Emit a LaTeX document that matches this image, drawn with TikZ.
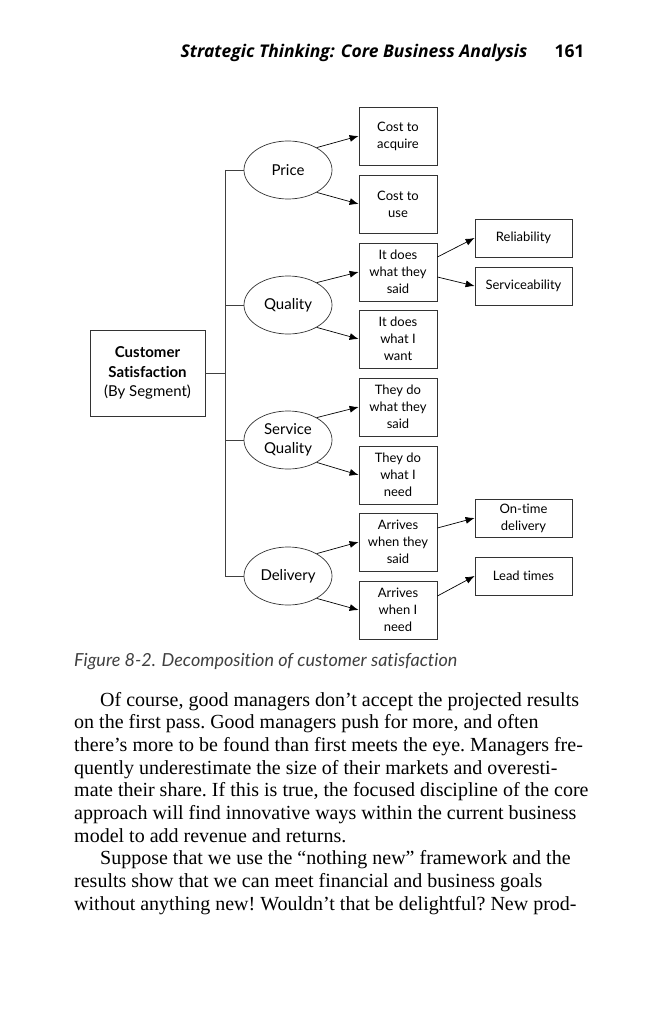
\documentclass[tikz,border=0pt]{standalone}
\usepackage{fontspec}
\setmainfont{Liberation Serif}
\newfontfamily\dfont[Ligatures=NoCommon]{Lato}
\newfontfamily\hfont{Open Sans}
\usetikzlibrary{arrows.meta,shapes.geometric}
\begin{document}
\begin{tikzpicture}[x=1pt,y=-1pt,
  every node/.style={font=\dfont\fontsize{13}{17}\selectfont, text=black},
  midbox/.style={draw=black!80, line width=0.8pt, minimum width=78pt, minimum height=58pt, inner sep=1pt, align=center},
  rbox/.style={draw=black!80, line width=0.8pt, minimum width=97pt, minimum height=38pt, inner sep=1pt, align=center},
  oval/.style={draw=black!80, line width=0.7pt, ellipse, minimum width=88pt, minimum height=58pt, inner sep=0pt, align=center, font=\dfont\fontsize{15}{19}\selectfont},
  link/.style={draw=black!75, line width=0.9pt},
  arr/.style={draw=black, line width=0.7pt, -{Latex[length=9pt,width=7pt]}},
  bodyline/.style={anchor=base west, inner sep=0pt, font=\rmfamily\fontsize{20}{23}\selectfont\frenchspacing}
]
\fill[white] (0,0) rectangle (662,1024);
\useasboundingbox (0,0) rectangle (662,1024);

% header
\node[anchor=base east, font=\hfont\bfseries\itshape\fontsize{17.5}{21}\selectfont] (head) at (531,58) {Strategic Thinking: Core Business Analysis};
\node[anchor=base east, font=\hfont\bfseries\fontsize{17.5}{21}\selectfont] (page) at (588,58) {161};

% root
\node[draw=black!80, line width=0.8pt, minimum width=115pt, minimum height=86pt, align=center, font=\dfont\fontsize{15}{19.5}\selectfont] (cs) at (147.5,373) {{\bfseries Customer}\\{\bfseries Satisfaction}\\(By Segment)};

% ellipses
\node[oval] (price) at (288,170) {Price};
\node[oval] (quality) at (288,305) {Quality};
\node[oval] (service) at (288,440) {Service\\Quality};
\node[oval] (delivery) at (288,576) {Delivery};

% middle boxes
\node[midbox] (acq) at (398,136) {Cost to\\acquire};
\node[midbox] (use) at (398,204) {Cost to\\use};
\node[midbox] (said) at (398,272) {It does\\what they\\said};
\node[midbox] (want) at (398,339) {It does\\what I\\want};
\node[midbox] (tsaid) at (398,407) {They do\\what they\\said};
\node[midbox] (need) at (398,475) {They do\\what I\\need};
\node[midbox] (asaid) at (398,542) {Arrives\\when they\\said};
\node[midbox] (aneed) at (398,610) {Arrives\\when I\\need};

% right boxes
\node[rbox] (rel) at (523.5,238) {Reliability};
\node[rbox] (serv) at (523.5,286) {Serviceability};
\node[rbox] (ontime) at (523.5,518) {On-time\\delivery};
\node[rbox] (lead) at (523.5,576) {Lead times};

% trunk
\coordinate (ttop) at (225,170);
\coordinate (tbot) at (225,576);
\coordinate (tmid) at (225,373);
\draw[link] (ttop) -- (tbot);
\draw[link] (cs.east) -- (tmid);
\draw[link] (ttop) -- (price.west);
\draw[link] (quality.west -| ttop) -- (quality.west);
\draw[link] (service.west -| ttop) -- (service.west);
\draw[link] (tbot) -- (delivery.west);

% arrows from ellipses
\draw[arr] (price.38) -- (acq.west);
\draw[arr] (price.-38) -- (use.west);
\draw[arr] (quality.38) -- (said.west);
\draw[arr] (quality.-38) -- (want.west);
\draw[arr] (service.38) -- (tsaid.west);
\draw[arr] (service.-38) -- (need.west);
\draw[arr] (delivery.38) -- (asaid.west);
\draw[arr] (delivery.-38) -- (aneed.west);

% arrows to right boxes
\draw[arr] ([yshift=15pt]said.east) -- (rel.west);
\draw[arr] ([yshift=-5pt]said.east) -- (serv.west);
\draw[arr] ([yshift=14pt]asaid.east) -- (ontime.west);
\draw[arr] ([yshift=14pt]aneed.east) -- (lead.west);

% caption
\node[anchor=base west, inner sep=0pt, font=\dfont\itshape\fontsize{18}{21}\selectfont, text=black!75] (cap) at (74,666) {Figure 8-2. Decomposition of customer satisfaction};

% body text, one line per node
\node[bodyline] (l1) at (100,706) {Of course, good managers don't accept the projected results};
\node[bodyline] (l2) at (74,728.7) {on the first pass. Good managers push for more, and often};
\node[bodyline] (l3) at (74,751.3) {there's more to be found than first meets the eye. Managers fre-};
\node[bodyline] (l4) at (74,774) {quently underestimate the size of their markets and overesti-};
\node[bodyline] (l5) at (74,796.7) {mate their share. If this is true, the focused discipline of the core};
\node[bodyline] (l6) at (74,819.3) {approach will find innovative ways within the current business};
\node[bodyline] (l7) at (74,842) {model to add revenue and returns.};
\node[bodyline] (l8) at (100,864.7) {Suppose that we use the “nothing new” framework and the};
\node[bodyline] (l9) at (74,887.3) {results show that we can meet financial and business goals};
\node[bodyline] (l10) at (74,910) {without anything new! Wouldn't that be delightful? New prod-};
\end{tikzpicture}
\end{document}
